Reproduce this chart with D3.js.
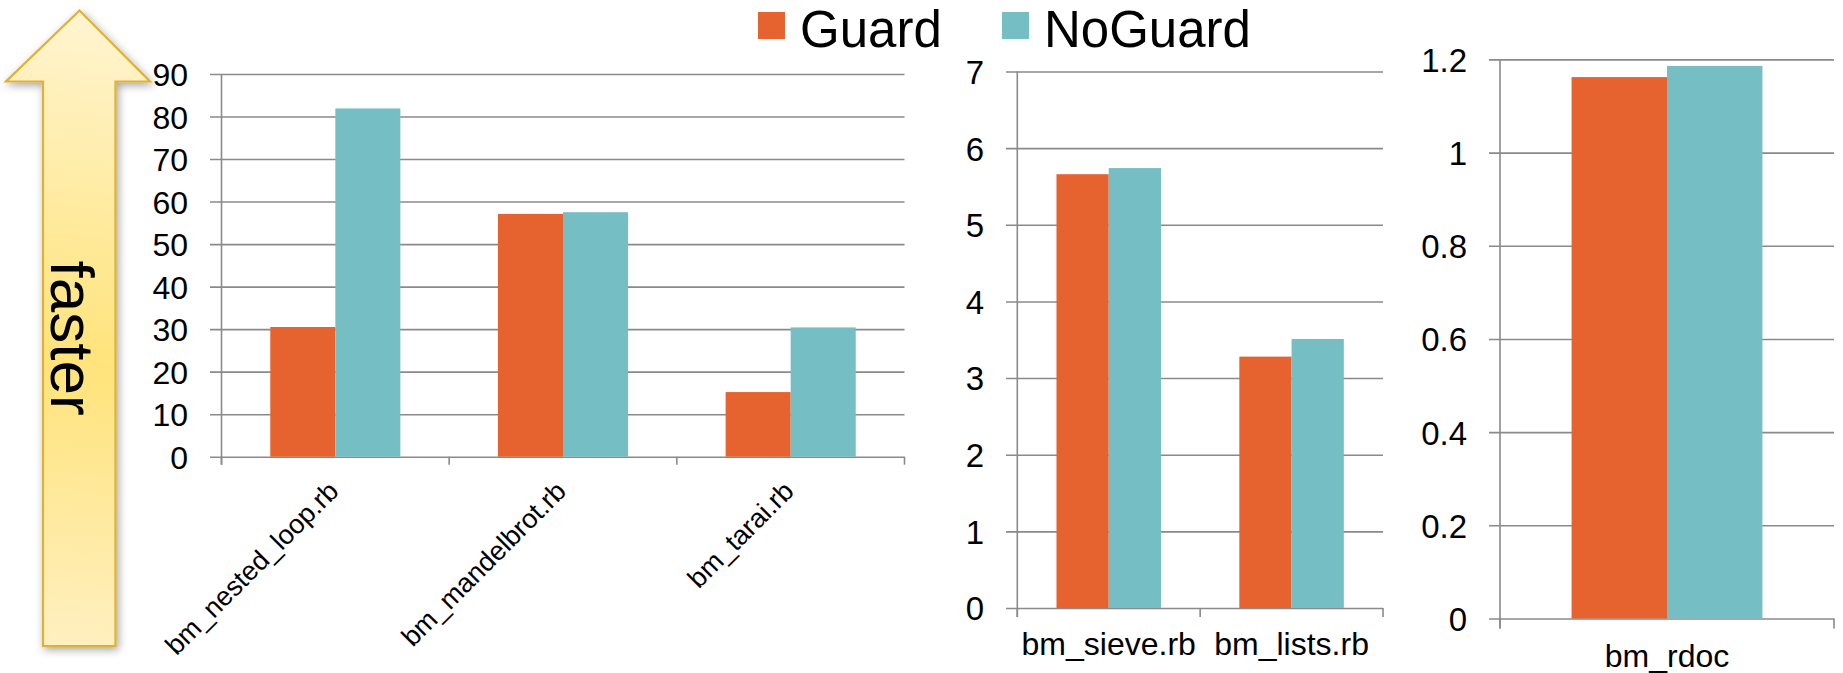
<!DOCTYPE html>
<html>
<head>
<meta charset="utf-8">
<script src="https://cdn.jsdelivr.net/npm/d3@7"></script>
<style>
  html, body { margin: 0; padding: 0; background: #fff; }
  svg { display: block; font-family: "Liberation Sans", Arial, Helvetica, sans-serif; }
</style>
</head>
<body>
<svg id="chart" width="1843" height="673"></svg>
<script>
// Benchmark scores (higher is faster), split into three panels by scale
const seriesNames = ["Guard", "NoGuard"];
const seriesColors = ["#E6632F", "#75BFC4"];

const categoriesA = ["bm_nested_loop.rb", "bm_mandelbrot.rb", "bm_tarai.rb"];
const guardA = [30.5, 57.1, 15.2];
const noGuardA = [81.9, 57.5, 30.4];
const ticksA = [0, 10, 20, 30, 40, 50, 60, 70, 80, 90];

const categoriesB = ["bm_sieve.rb", "bm_lists.rb"];
const guardB = [5.66, 3.28];
const noGuardB = [5.74, 3.51];
const ticksB = [0, 1, 2, 3, 4, 5, 6, 7];

const categoriesC = ["bm_rdoc"];
const guardC = [1.162];
const noGuardC = [1.186];
const ticksC = [0, 0.2, 0.4, 0.6, 0.8, 1, 1.2];

const svg = d3.select("#chart");
const gridColor = "#8a8a8a";

// ---- "faster" arrow on the left ----
const defs = svg.append("defs");
const grad = defs.append("linearGradient")
  .attr("id", "arrowFill").attr("gradientUnits", "userSpaceOnUse")
  .attr("x1", 110).attr("y1", 10).attr("x2", 40).attr("y2", 650);
grad.append("stop").attr("offset", 0).attr("stop-color", "#FFF5D2");
grad.append("stop").attr("offset", 0.55).attr("stop-color", "#FFE37A");
grad.append("stop").attr("offset", 1).attr("stop-color", "#FFF0C2");
const shadow = defs.append("filter").attr("id", "arrowShadow")
  .attr("x", "-30%").attr("y", "-10%").attr("width", "160%").attr("height", "120%");
shadow.append("feDropShadow").attr("dx", 2).attr("dy", 3).attr("stdDeviation", 4)
  .attr("flood-color", "#000").attr("flood-opacity", 0.35);

const arrowPts = [[79.5, 10.5], [150, 81.5], [115.5, 81.5], [115.5, 646], [43, 646], [43, 81.5], [6, 81.5]];
svg.append("path")
  .attr("d", d3.line()(arrowPts) + "Z")
  .attr("fill", "url(#arrowFill)")
  .attr("stroke", "#DDB136").attr("stroke-width", 2.2)
  .attr("stroke-linejoin", "miter")
  .attr("filter", "url(#arrowShadow)");
svg.append("text")
  .attr("transform", "translate(51,338) rotate(90)")
  .attr("text-anchor", "middle")
  .attr("font-size", 62)
  .attr("fill", "#000")
  .text("faster");

// ---- Panels ----
const panels = [
  { cats: categoriesA, vals: [guardA, noGuardA], ticks: ticksA,
    axisX: 221.5, right: 904.5, top: 74, bottom: 456.7, gridStart: 210, tickLen: 8,
    labelFont: 32, catFont: 27, rotate: true },
  { cats: categoriesB, vals: [guardB, noGuardB], ticks: ticksB,
    axisX: 1017.3, right: 1383, top: 71.5, bottom: 608, gridStart: 1006, tickLen: 9,
    labelFont: 33, catFont: 32, catBaseline: 655 },
  { cats: categoriesC, vals: [guardC, noGuardC], ticks: ticksC,
    axisX: 1500, right: 1834, top: 59.4, bottom: 618.5, gridStart: 1489, tickLen: 10,
    labelFont: 33, catFont: 32, catBaseline: 667 }
];

panels.forEach(p => {
  const g = svg.append("g");
  const yMax = p.ticks[p.ticks.length - 1];
  const y = d3.scaleLinear().domain([0, yMax]).range([p.bottom, p.top]);
  const x = d3.scaleBand().domain(p.cats).range([p.axisX, p.right]).padding(0);
  const bw = x.bandwidth();
  // two bars per category, gap of 1.5 bar widths between groups
  const xs = d3.scaleBand().domain(seriesNames)
    .range([bw * 0.75 / 3.5, bw * 2.75 / 3.5]).padding(0);

  // horizontal gridlines with tick labels
  const yAxis = d3.axisLeft(y)
    .tickValues(p.ticks)
    .tickSize(-(p.right - p.gridStart))
    .tickPadding(22)
    .tickFormat(d3.format("~g"));
  const ya = g.append("g").attr("transform", `translate(${p.gridStart},0)`).call(yAxis);
  ya.select(".domain").remove();
  ya.selectAll(".tick line").attr("stroke", gridColor).attr("stroke-width", 1.6);
  ya.selectAll(".tick text")
    .attr("font-size", p.labelFont).attr("fill", "#000")
    .attr("font-family", "Liberation Sans, Arial, sans-serif")
    .attr("dy", "0.36em");

  // bars
  p.cats.forEach((c, ci) => {
    seriesNames.forEach((s, si) => {
      const v = p.vals[si][ci];
      g.append("rect")
        .attr("x", x(c) + xs(s))
        .attr("width", xs.bandwidth())
        .attr("y", y(v))
        .attr("height", y(0) - y(v))
        .attr("fill", seriesColors[si]);
    });
  });

  // value axis line
  g.append("line")
    .attr("x1", p.axisX).attr("x2", p.axisX)
    .attr("y1", y(yMax)).attr("y2", y(0) + p.tickLen)
    .attr("stroke", gridColor).attr("stroke-width", 1.6);

  // category tick marks at band boundaries
  const edges = p.cats.map(c => x(c)).concat([x.range()[1]]);
  g.selectAll(".cattick").data(edges).enter().append("line")
    .attr("x1", d => d).attr("x2", d => d)
    .attr("y1", y(0)).attr("y2", y(0) + p.tickLen)
    .attr("stroke", gridColor).attr("stroke-width", 1.6);

  // category labels
  p.cats.forEach(c => {
    const cx = x(c) + bw / 2;
    if (p.rotate) {
      g.append("text")
        .attr("transform", `translate(${cx - 2},${y(0) + 29.5}) rotate(-45)`)
        .attr("text-anchor", "end")
        .attr("dy", "0.35em")
        .attr("font-size", p.catFont)
        .attr("fill", "#000")
        .text(c);
    } else {
      g.append("text")
        .attr("x", cx).attr("y", p.catBaseline)
        .attr("text-anchor", "middle")
        .attr("font-size", p.catFont)
        .attr("fill", "#000")
        .text(c);
    }
  });
});

// ---- Legend ----
const legendItems = [
  { name: seriesNames[0], color: seriesColors[0], sx: 758, tx: 800 },
  { name: seriesNames[1], color: seriesColors[1], sx: 1002, tx: 1044 }
];
const lg = svg.append("g");
legendItems.forEach(it => {
  lg.append("rect").attr("x", it.sx).attr("y", 12).attr("width", 27).attr("height", 27)
    .attr("fill", it.color);
  lg.append("text").attr("x", it.tx).attr("y", 46.5)
    .attr("font-size", 51).attr("fill", "#000").text(it.name);
});
</script>
</body>
</html>
